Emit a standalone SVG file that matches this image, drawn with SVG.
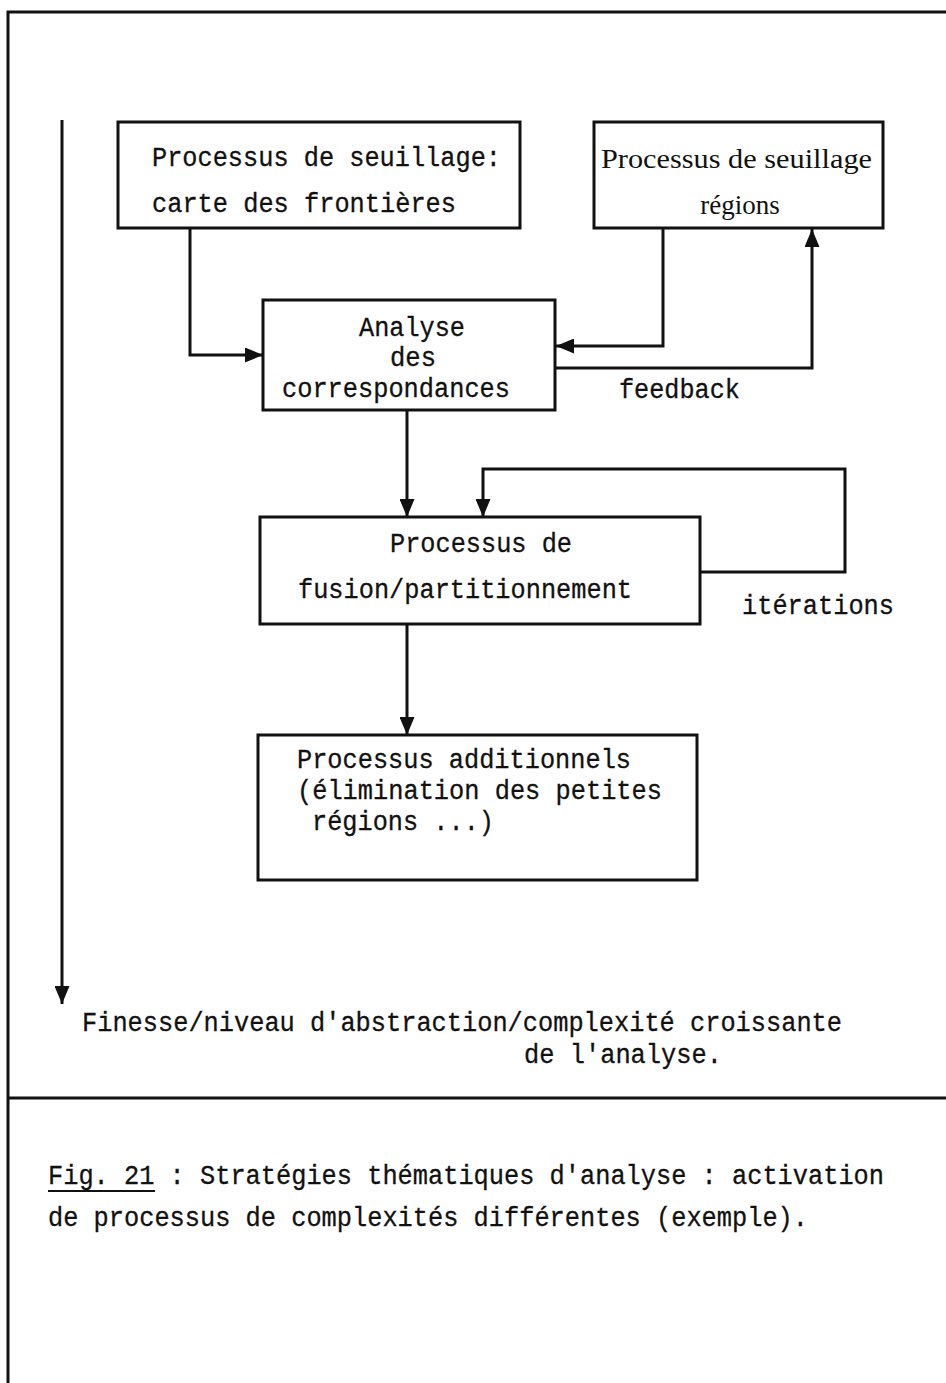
<svg xmlns="http://www.w3.org/2000/svg" width="946" height="1383" viewBox="0 0 946 1383">
<style>
.frame{fill:none;stroke:#111;stroke-width:3}
.box{fill:#fff;stroke:#111;stroke-width:3}
.con{fill:none;stroke:#111;stroke-width:3;stroke-linejoin:miter}
.t{font-family:"Liberation Mono","DejaVu Sans Mono",monospace;font-size:27px;fill:#111;stroke:#111;stroke-width:0.3}
.s{font-family:"Liberation Serif","Times New Roman",serif;font-size:27px;fill:#111}
</style>
<defs>
<marker id="ah" viewBox="0 0 18 15" refX="18" refY="7.5" markerWidth="18" markerHeight="15" markerUnits="userSpaceOnUse" orient="auto">
<path d="M0,0 L18,7.5 L0,15 Z" fill="#111"/>
</marker>
</defs>
<rect width="946" height="1383" fill="#fff"/>
<g id="frame">
<path class="frame" d="M946,12 L8,12 L8,1383"/>
<line class="frame" x1="8" y1="1098" x2="946" y2="1098"/>
</g>
<g id="connectors">
<line class="con" x1="62" y1="120" x2="62" y2="1004" marker-end="url(#ah)"/>
<path class="con" d="M190,228 L190,355 L263,355" marker-end="url(#ah)"/>
<path class="con" d="M663,228 L663,346 L556,346" marker-end="url(#ah)"/>
<path class="con" d="M555,368 L812,368 L812,229" marker-end="url(#ah)"/>
<line class="con" x1="407" y1="410" x2="407" y2="517" marker-end="url(#ah)"/>
<path class="con" d="M700,572 L845,572 L845,469 L483,469 L483,517" marker-end="url(#ah)"/>
<line class="con" x1="407" y1="624" x2="407" y2="735" marker-end="url(#ah)"/>
</g>
<g id="n1">
<rect class="box" x="118" y="122" width="402" height="106"/>
<text class="t" x="152" y="166" textLength="349" lengthAdjust="spacingAndGlyphs">Processus de seuillage:</text>
<text class="t" x="152" y="212" textLength="304" lengthAdjust="spacingAndGlyphs">carte des frontières</text>
</g>
<g id="n2">
<rect class="box" x="594" y="122" width="289" height="106"/>
<text class="s" x="601" y="168" textLength="271" lengthAdjust="spacingAndGlyphs">Processus de seuillage</text>
<text class="s" x="740" y="214" text-anchor="middle">régions</text>
</g>
<g id="n3">
<rect class="box" x="263" y="300" width="292" height="110"/>
<text class="t" x="359" y="336" textLength="106" lengthAdjust="spacingAndGlyphs">Analyse</text>
<text class="t" x="390" y="366" textLength="46" lengthAdjust="spacingAndGlyphs">des</text>
<text class="t" x="282" y="397" textLength="228" lengthAdjust="spacingAndGlyphs">correspondances</text>
</g>
<text class="t" x="619" y="398" textLength="121" lengthAdjust="spacingAndGlyphs">feedback</text>
<g id="n4">
<rect class="box" x="260" y="517" width="440" height="107"/>
<text class="t" x="390" y="552" textLength="182" lengthAdjust="spacingAndGlyphs">Processus de</text>
<text class="t" x="298" y="598" textLength="334" lengthAdjust="spacingAndGlyphs">fusion/partitionnement</text>
</g>
<text class="t" x="742" y="614" textLength="152" lengthAdjust="spacingAndGlyphs">itérations</text>
<g id="n5">
<rect class="box" x="258" y="735" width="439" height="145"/>
<text class="t" x="297" y="768" textLength="334" lengthAdjust="spacingAndGlyphs">Processus additionnels</text>
<text class="t" x="297" y="799" textLength="365" lengthAdjust="spacingAndGlyphs">(élimination des petites</text>
<text class="t" x="312" y="830" textLength="182" lengthAdjust="spacingAndGlyphs">régions ...)</text>
</g>
<g id="axis-label">
<text class="t" x="82" y="1031" textLength="760" lengthAdjust="spacingAndGlyphs">Finesse/niveau d'abstraction/complexité croissante</text>
<text class="t" x="524" y="1063" textLength="198" lengthAdjust="spacingAndGlyphs">de l'analyse.</text>
</g>
<g id="caption">
<text class="t" x="48" y="1184" textLength="836" lengthAdjust="spacingAndGlyphs">Fig. 21 : Stratégies thématiques d'analyse : activation</text>
<line x1="48" y1="1191" x2="155" y2="1191" stroke="#111" stroke-width="2"/>
<text class="t" x="48" y="1226" textLength="760" lengthAdjust="spacingAndGlyphs">de processus de complexités différentes (exemple).</text>
</g>
</svg>
